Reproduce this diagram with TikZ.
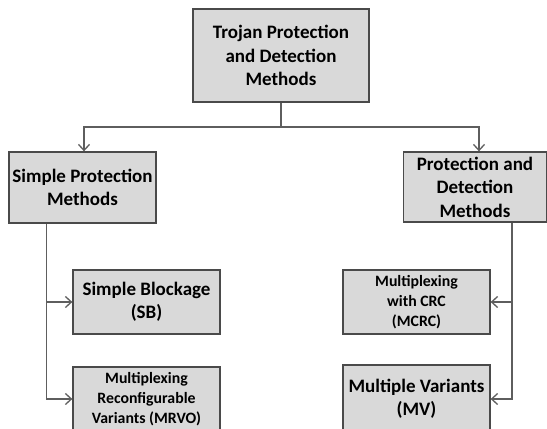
\documentclass[tikz,border=0pt]{standalone}
\usepackage{fontspec}
\setmainfont{Carlito}
\usetikzlibrary{arrows.meta,calc}

\definecolor{boxfill}{HTML}{D9D9D9}
\definecolor{boxline}{HTML}{4A4A4A}
\definecolor{linkline}{HTML}{5E5E5E}

\tikzset{
  box/.style={draw=boxline, fill=boxfill, line width=1.3pt, rectangle,
    inner sep=0pt, align=center, text=black, font=\bfseries},
  bigtxt/.style={font=\bfseries\fontsize{19}{23.5}\selectfont},
  smalltxt/.style={font=\bfseries\fontsize{15.8}{20}\selectfont},
  link/.style={draw=linkline, line width=1.3pt},
  arr/.style={link, -{Straight Barb[length=6pt,width=11pt,line width=1.3pt]}}
}

\begin{document}
\begin{tikzpicture}[x=1pt,y=-1pt]
  \fill[white] (0,0) rectangle (547,429);
  \useasboundingbox (0,0) rectangle (547,429);

  % root and the two method families
  \node[box, bigtxt, minimum width=176pt, minimum height=93pt] (top) at (281,55.5)
    {Trojan Protection\\and Detection\\Methods};
  \node[box, bigtxt, minimum width=147pt, minimum height=71pt] (left) at (82.5,187.5)
    {Simple Protection\\Methods};
  \node[box, bigtxt, minimum width=143pt, minimum height=70pt] (right) at (475,187)
    {Protection and\\Detection\\Methods};

  % leaves on the left
  \node[box, bigtxt, minimum width=147pt, minimum height=64pt] (sb) at (146.5,302)
    {Simple Blockage\\(SB)};
  \node[box, smalltxt, minimum width=147pt, minimum height=64pt] (mrvo) at (146.5,399)
    {Multiplexing\\Reconfigurable\\Variants (MRVO)};

  % leaves on the right
  \node[box, smalltxt, minimum width=147pt, minimum height=64pt] (mcrc) at (416.5,302)
    {Multiplexing\\with CRC\\(MCRC)};
  \node[box, bigtxt, minimum width=147pt, minimum height=68pt] (mv) at (416.5,399)
    {Multiple Variants\\(MV)};

  % root fan-out
  \coordinate (j) at (281,127);
  \draw[link] (top.south) -- (j);
  \draw[arr] (j) -| ([xshift=1.5pt]left.north);
  \draw[arr] (j) -| ([xshift=4pt]right.north);

  % left trunk
  \coordinate (lt) at ([xshift=38pt]left.south west);
  \draw[arr] (lt) |- (sb.west);
  \draw[arr] (lt) |- (mrvo.west);

  % right trunk
  \coordinate (rt) at ([xshift=109pt]right.south west);
  \draw[arr] (rt) |- (mcrc.east);
  \draw[arr] (rt) |- (mv.east);
\end{tikzpicture}
\end{document}
